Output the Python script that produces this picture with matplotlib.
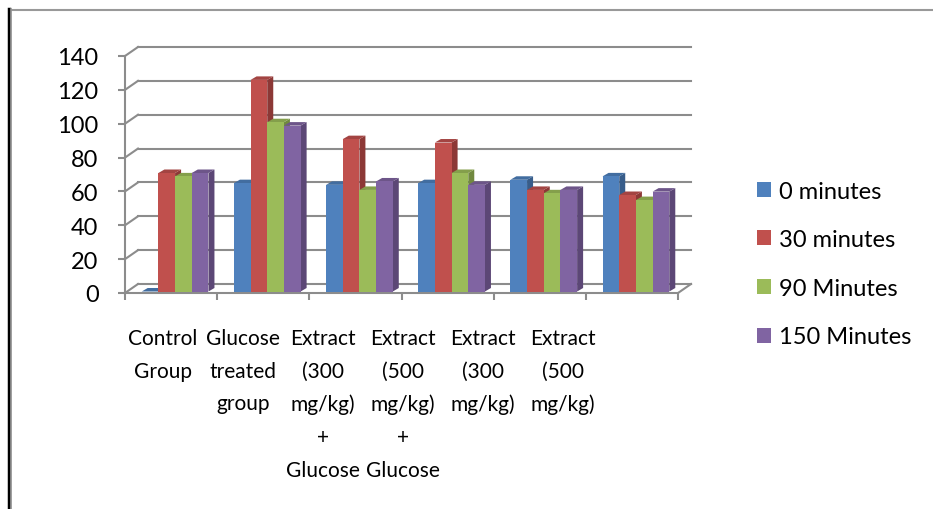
import matplotlib
matplotlib.use("Agg")
import matplotlib.pyplot as plt
import matplotlib.transforms as mtransforms
from matplotlib.patches import Polygon, Patch
from matplotlib.lines import Line2D
import numpy as np

# ---- data -------------------------------------------------------------
categories = [
    "Control\nGroup",
    "Glucose\ntreated\ngroup",
    "Extract\n(300\nmg/kg)\n+\nGlucose",
    "Extract\n(500\nmg/kg)\n+\nGlucose",
    "Extract\n(300\nmg/kg)",
    "Extract\n(500\nmg/kg)",
]
series_names = ["0 minutes", "30 minutes", "90 Minutes", "150 Minutes"]
min_0 = [0, 64, 63, 64, 66, 68]
min_30 = [70, 125, 90, 88, 60, 57]
min_90 = [68, 100, 60, 70, 58, 54]
min_150 = [70, 98, 65, 63, 60, 59]
y_ticks = [0, 20, 40, 60, 80, 100, 120, 140]

series = [min_0, min_30, min_90, min_150]
front_colors = ["#4F81BD", "#C0504D", "#9BBB59", "#8064A2"]
side_colors = ["#385D8A", "#8C3836", "#71893F", "#5C4776"]
top_colors = ["#426DA0", "#A34442", "#849F4B", "#6D5589"]

FONT = "Lato"
FS = 17
FS_CAT = 15
GRID = "#8C8C8C"

W, H, DPI = 933, 510, 100
fig = plt.figure(figsize=(W / DPI, H / DPI), dpi=DPI)
fig.patch.set_facecolor("white")

# plot area: front floor edge from x=125 to 678 px, value 0 at y=294, 140 at y=57
x0_px, x1_px, y0_px, y1_px = 125, 678, 294, 57
ax = fig.add_axes([x0_px / W, 1 - y0_px / H, (x1_px - x0_px) / W, (y0_px - y1_px) / H])
ax.set_xlim(-0.5, len(categories) - 0.5)
ax.set_ylim(0, 140)
ax.patch.set_alpha(0)

for s in ["top", "right"]:
    ax.spines[s].set_visible(False)
for s in ["left", "bottom"]:
    ax.spines[s].set_color(GRID)
    ax.spines[s].set_linewidth(1.5)

ax.set_yticks(y_ticks)
ax.tick_params(axis="y", direction="out", length=5, width=1.5, color=GRID,
               pad=14, labelsize=FS)
for lab in ax.get_yticklabels():
    lab.set_fontfamily(FONT)

# category boundary ticks on the floor edge, labels drawn separately
ax.set_xticks(np.arange(-0.5, len(categories), 1.0))
ax.set_xticklabels([])
ax.tick_params(axis="x", direction="out", length=5, width=1.5, color=GRID)

ident = mtransforms.IdentityTransform()

def to_px(x, y):
    return ax.transData.transform((x, y))

# back wall gridlines and wall/floor depth edges
wall_dx, wall_dy = 13, 9
for v in y_ticks:
    a = to_px(-0.5, v)
    b = to_px(len(categories) - 0.5, v)
    ax.add_line(Line2D([a[0] + wall_dx, b[0] + wall_dx], [a[1] + wall_dy, b[1] + wall_dy],
                       transform=ident, color=GRID, lw=1.5, zorder=1, clip_on=False))
    ax.add_line(Line2D([a[0], a[0] + wall_dx], [a[1], a[1] + wall_dy],
                       transform=ident, color=GRID, lw=1.5, zorder=1, clip_on=False))
c = to_px(len(categories) - 0.5, 0)
ax.add_line(Line2D([c[0], c[0] + wall_dx], [c[1], c[1] + wall_dy],
                   transform=ident, color=GRID, lw=1.5, zorder=1, clip_on=False))

# 3-D looking clustered columns
bw = 0.181
shift = mtransforms.ScaledTranslation(4 / DPI, 1.5 / DPI, fig.dpi_scale_trans)
depth_dx, depth_dy = 6, 3.5
z = 3.0
for i in range(len(categories)):
    for j, vals in enumerate(series):
        xc = i + (j - 1.5) * bw
        bar = ax.bar(xc, vals[i], width=bw, color=front_colors[j], linewidth=0,
                     zorder=z + 0.002)[0]
        bar.set_transform(ax.transData + shift)
        bar.set_clip_on(False)
        # faces in pixel space from the same bar geometry
        tr = ax.transData + shift
        xl, xr = xc - bw / 2, xc + bw / 2
        br = tr.transform((xr, 0))
        tl = tr.transform((xl, vals[i]))
        trr = tr.transform((xr, vals[i]))
        d = np.array([depth_dx, depth_dy])
        side = Polygon([br, trr, trr + d, br + d], closed=True, transform=ident,
                       facecolor=side_colors[j], edgecolor="none", zorder=z, clip_on=False)
        top = Polygon([tl, trr, trr + d, tl + d], closed=True, transform=ident,
                      facecolor=top_colors[j], edgecolor="none", zorder=z + 0.001,
                      clip_on=False)
        ax.add_patch(side)
        ax.add_patch(top)
        z += 0.01

# category labels under the floor
label_x_px = [163 + 80 * i for i in range(len(categories))]
for xp, lab in zip(label_x_px, categories):
    fig.text(xp / W, 1 - 329 / H, lab, ha="center", va="top", multialignment="center",
             fontsize=FS_CAT, fontfamily=FONT, linespacing=1.79)

# legend
handles = [Patch(facecolor=cl, edgecolor="none") for cl in front_colors]
fig.legend(handles, series_names, loc="center left",
           bbox_to_anchor=(757 / W, 1 - 265 / H), frameon=False,
           prop={"family": FONT, "size": FS}, handlelength=0.6, handleheight=0.6,
           handletextpad=0.35, labelspacing=1.17, borderaxespad=0, borderpad=0)

# outer frame edges
fig.add_artist(Line2D([12 / W, 1], [1 - 10.5 / H] * 2, transform=fig.transFigure,
                      color="#999999", lw=1.5))
fig.add_artist(Line2D([8.5 / W] * 2, [0, 1 - 10 / H], transform=fig.transFigure,
                      color="black", lw=2.5))
fig.add_artist(Line2D([11 / W] * 2, [0, 1 - 10 / H], transform=fig.transFigure,
                      color="#9A9A9A", lw=1.2))

fig.savefig("out.png", dpi=DPI)
